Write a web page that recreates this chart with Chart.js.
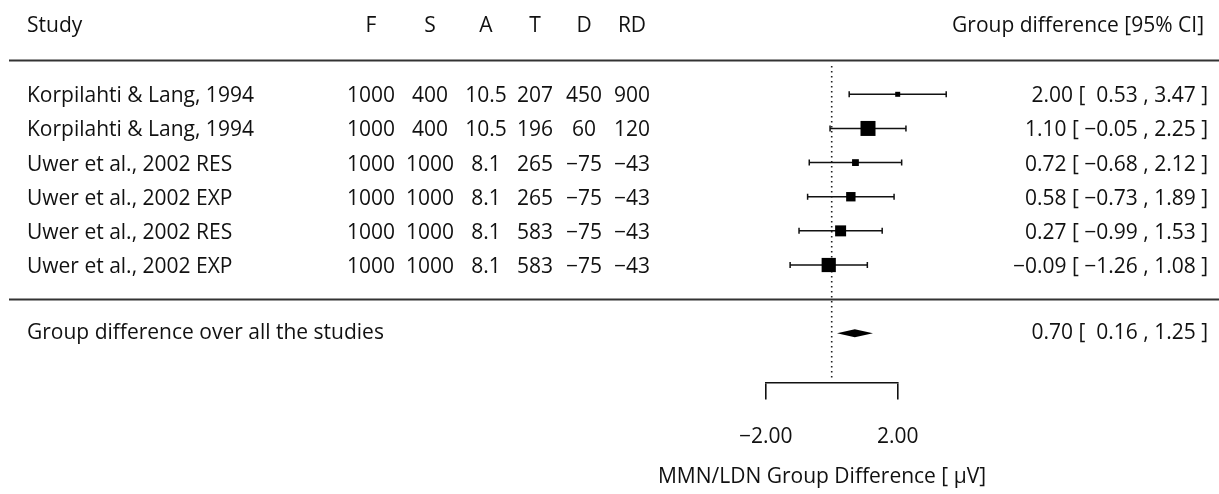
<!DOCTYPE html>
<html>
<head>
<meta charset="utf-8">
<script src="https://cdn.jsdelivr.net/npm/chart.js@4"></script>
<style>
  html,body{margin:0;padding:0;background:#fff;}
  #wrap{width:1219px;height:494px;position:relative;}
</style>
</head>
<body>
<div id="wrap"><canvas id="forest"></canvas></div>
<script>
// ---- data ----
const studies=['Korpilahti & Lang, 1994','Korpilahti & Lang, 1994','Uwer et al., 2002 RES','Uwer et al., 2002 EXP','Uwer et al., 2002 RES','Uwer et al., 2002 EXP'];
const colHeads=['F','S','A','T','D','RD'];
const colF=['1000','1000','1000','1000','1000','1000'];
const colS=['400','400','1000','1000','1000','1000'];
const colA=['10.5','10.5','8.1','8.1','8.1','8.1'];
const colT=['207','196','265','265','583','583'];
const colD=['450','60','−75','−75','−75','−75'];
const colRD=['900','120','−43','−43','−43','−43'];
const est=[2.00,1.10,0.72,0.58,0.27,-0.09];
const lower=[0.53,-0.05,-0.68,-0.73,-0.99,-1.26];
const upper=[3.47,2.25,2.12,1.89,1.53,1.08];
const pooled=[0.70,0.16,1.25];   // estimate, lower, upper
const xTicks=[-2,2];

const rows=est.map((_,i)=>i+1);
const summaryRow=8;
const FONT="'Open Sans', sans-serif";
const FS=21;
Chart.defaults.font.family=FONT;
Chart.defaults.font.size=FS;
Chart.defaults.color='#111';

const fmt=v=>(v<0?'−':'')+Math.abs(v).toFixed(2);
const ciText=(e,l,h)=>fmt(e)+' ['+(l<0?' ':'  ')+fmt(l)+' , '+fmt(h)+' ]';

// box size from precision, scaled between 0.5 and 1.5 (metafor style)
const prec=lower.map((l,i)=>1/((upper[i]-l)/3.92));
const pMin=Math.min(...prec), pMax=Math.max(...prec);
const boxSide=prec.map(p=>10*(0.5+(p-pMin)/(pMax-pMin)));

const forestPlugin={
  id:'forest',
  beforeDatasetsDraw(chart){
    const {ctx,scales:{x,y}}=chart;
    ctx.save();
    // reference line at 0
    ctx.strokeStyle='#222'; ctx.lineWidth=1.6; ctx.setLineDash([1.6,3.4]);
    ctx.beginPath(); ctx.moveTo(x.getPixelForValue(0),y.getPixelForValue(0.17));
    ctx.lineTo(x.getPixelForValue(0),y.getPixelForValue(9.3)); ctx.stroke();
    ctx.setLineDash([]);
    // confidence intervals
    ctx.strokeStyle='#111'; ctx.lineWidth=1.5;
    rows.forEach((r,i)=>{
      const py=y.getPixelForValue(r), x0=x.getPixelForValue(lower[i]), x1=x.getPixelForValue(upper[i]);
      ctx.beginPath();
      ctx.moveTo(x0,py); ctx.lineTo(x1,py);
      ctx.moveTo(x0,py-3); ctx.lineTo(x0,py+3);
      ctx.moveTo(x1,py-3); ctx.lineTo(x1,py+3);
      ctx.stroke();
    });
    // pooled diamond
    const sy=y.getPixelForValue(summaryRow);
    ctx.fillStyle='#000'; ctx.beginPath();
    ctx.moveTo(x.getPixelForValue(pooled[1]),sy);
    ctx.lineTo(x.getPixelForValue(pooled[0]),sy-4);
    ctx.lineTo(x.getPixelForValue(pooled[2]),sy);
    ctx.lineTo(x.getPixelForValue(pooled[0]),sy+4);
    ctx.closePath(); ctx.fill();
    ctx.restore();
  },
  afterDraw(chart){
    const {ctx,scales:{y}}=chart;
    ctx.save();
    ctx.font=FS+'px '+FONT; ctx.fillStyle='#111'; ctx.textBaseline='middle';
    // separators
    ctx.strokeStyle='#333'; ctx.lineWidth=2;
    [0,7].forEach(v=>{const py=Math.round(y.getPixelForValue(v))+0.5;ctx.beginPath();ctx.moveTo(9,py);ctx.lineTo(1219,py);ctx.stroke();});
    // headers
    const dy=2;
    const hy=y.getPixelForValue(-1.05)+dy;
    const colX=[371,430,486,535,584,632];
    ctx.textAlign='left'; ctx.fillText('Study',27,hy);
    ctx.textAlign='center'; colHeads.forEach((h,i)=>ctx.fillText(h,colX[i],hy));
    ctx.textAlign='right'; ctx.fillText('Group difference [95% CI]',1204,hy);
    // rows
    const cols=[colF,colS,colA,colT,colD,colRD];
    rows.forEach((r,i)=>{
      const py=y.getPixelForValue(r)+dy;
      ctx.textAlign='left'; ctx.fillText(studies[i],27,py);
      ctx.textAlign='center'; cols.forEach((c,j)=>ctx.fillText(c[i],colX[j],py));
      ctx.textAlign='right'; ctx.fillText(ciText(est[i],lower[i],upper[i]),1208,py);
    });
    const sy=y.getPixelForValue(summaryRow);
    ctx.textAlign='left'; ctx.fillText('Group difference over all the studies',27,sy);
    ctx.textAlign='right'; ctx.fillText(ciText(pooled[0],pooled[1],pooled[2]),1208,sy);
    // axis title
    ctx.textAlign='center'; ctx.fillText('MMN/LDN Group Difference [ μV]',822,477);
    ctx.restore();
  }
};

new Chart(document.getElementById('forest'),{
  type:'scatter',
  data:{datasets:[{
    data:rows.map((r,i)=>({x:est[i],y:r})),
    pointStyle:'rect',
    pointRadius:boxSide.map(s=>s/Math.SQRT2),
    pointHoverRadius:boxSide.map(s=>s/Math.SQRT2),
    backgroundColor:'#000',borderWidth:0,clip:false
  }]},
  options:{
    responsive:true,maintainAspectRatio:false,animation:false,
    layout:{padding:{left:765.7,right:321.3,top:60.16,bottom:0}},
    plugins:{legend:{display:false},tooltip:{enabled:false}},
    scales:{
      x:{type:'linear',position:'bottom',min:-2,max:2,
        afterBuildTicks:s=>{s.ticks=xTicks.map(v=>({value:v}));},
        afterFit:s=>{s.height=111.4;},
        grid:{drawOnChartArea:false,drawTicks:true,tickLength:17,color:'#111',lineWidth:1.6},
        border:{display:true,color:'#111',width:1.6},
        ticks:{padding:25,color:'#111',maxRotation:0,callback:v=>fmt(v)}},
      y:{type:'linear',display:false,reverse:true,min:0,max:9.444}
    }
  },
  plugins:[forestPlugin]
});
</script>
</body>
</html>
